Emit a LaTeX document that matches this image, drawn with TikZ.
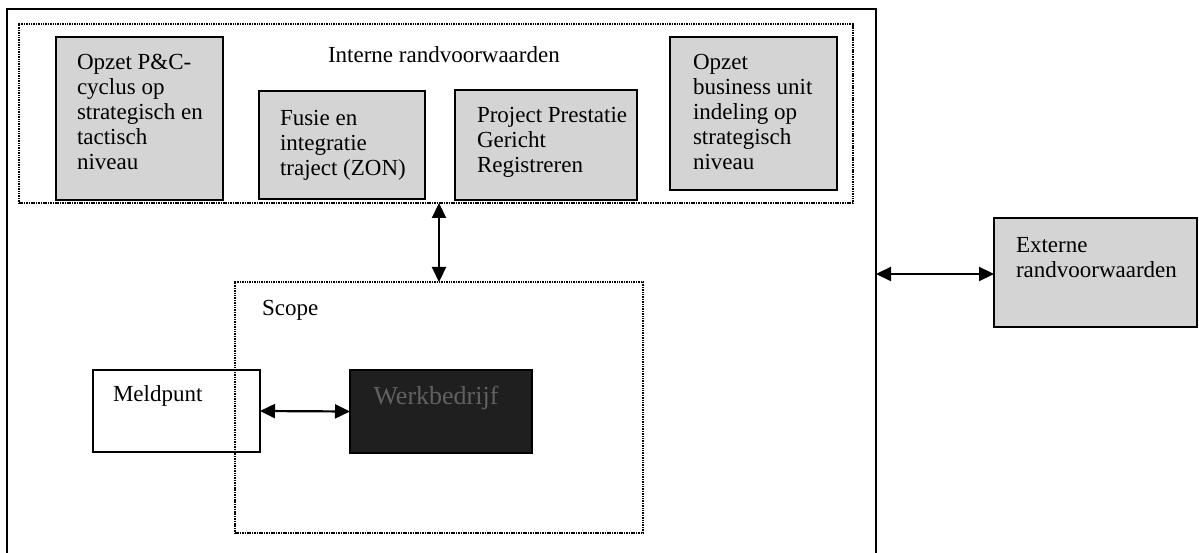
\documentclass[tikz,border=0pt]{standalone}
\usepackage{fontspec}
\setmainfont{Liberation Serif}
\usetikzlibrary{arrows.meta}
\begin{document}
\begin{tikzpicture}[x=1pt,y=-1pt,
  every node/.style={inner sep=0pt, outer sep=0pt},
  txt/.style={font=\fontsize{23}{25}\selectfont, align=left, anchor=north west},
  graybox/.style={draw, line width=2.2pt, fill=black!17, anchor=north west},
  plainbox/.style={draw, line width=2.2pt, anchor=north west},
  darkbox/.style={draw, line width=2.2pt, fill=black!88, anchor=north west},
  dotbox/.style={draw, line width=1.5pt, dash pattern=on 1.5pt off 0.9pt, anchor=north west},
  dbl/.style={line width=2.2pt, {Triangle[length=15pt,width=14pt]}-{Triangle[length=15pt,width=14pt]}}
]
\useasboundingbox (0,0) rectangle (1199,553);

% outer frame (bottom edge outside the picture)
\draw[line width=2.2pt] (7,560) -- (7,9) -- (876,9) -- (876,560);
\coordinate (outerR) at (876,274);

% interne randvoorwaarden
\node[dotbox, minimum width=834pt, minimum height=179pt] (intern) at (19,24) {};
\node[txt, anchor=west] (interntitle) at (328,55) {Interne randvoorwaarden};

\node[graybox, minimum width=167pt, minimum height=163pt] (b1) at (56,37) {};
\node[txt] (t1) at (77,54) {Opzet P\&C-\\cyclus op\\strategisch en\\tactisch\\niveau};

\node[graybox, minimum width=166pt, minimum height=108pt] (b2) at (259,91) {};
\node[txt] (t2) at (280,110) {Fusie en\\integratie\\traject (ZON)};

\node[graybox, minimum width=182pt, minimum height=110pt] (b3) at (455,90) {};
\node[txt] (t3) at (477,107) {Project Prestatie\\Gericht\\Registreren};

\node[graybox, minimum width=167pt, minimum height=153pt] (b4) at (670,37) {};
\node[txt] (t4) at (693,54) {Opzet\\business unit\\indeling op\\strategisch\\niveau};

% scope
\node[dotbox, minimum width=408pt, minimum height=251pt] (scope) at (235,282) {};
\node[txt, anchor=west] (scopetitle) at (262,310) {Scope};

\node[plainbox, minimum width=167pt, minimum height=82pt] (meld) at (93,370) {};
\node[txt, anchor=west] (meldtxt) at (113,396) {Meldpunt};

\node[darkbox, minimum width=182pt, minimum height=83pt] (dark) at (350,370) {};
\node[font=\fontsize{26}{28}\selectfont, text=black!62] (darktxt) at (436,398) {Werkbedrijf};

% externe randvoorwaarden
\node[graybox, minimum width=203pt, minimum height=109pt] (ext) at (994,218) {};
\node[txt] (exttxt) at (1016,237) {Externe\\randvoorwaarden};

% connectors
\draw[dbl] (scope.north |- intern.south) -- (scope.north);
\draw[dbl] (meld.east) -- (dark.west);
\draw[dbl] (outerR) -- (outerR -| ext.west);
\end{tikzpicture}
\end{document}
